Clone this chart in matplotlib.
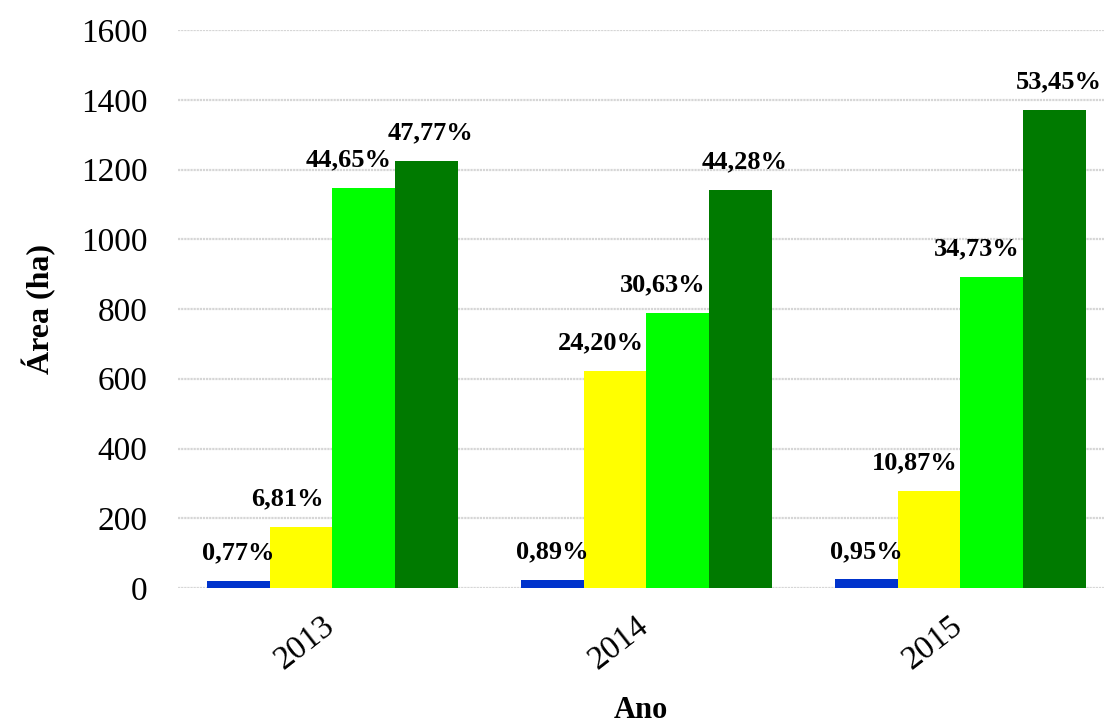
import numpy as np
import matplotlib

matplotlib.use("Agg")
import matplotlib.pyplot as plt
from matplotlib.transforms import ScaledTranslation

# data
years = ["2013", "2014", "2015"]
blue_vals = [19.8, 22.9, 24.4]
yellow_vals = [174.8, 623.0, 279.0]
lgreen_vals = [1145.8, 788.7, 891.5]
dgreen_vals = [1225.8, 1140.0, 1372.0]
blue_pct = ["0,77%", "0,89%", "0,95%"]
yellow_pct = ["6,81%", "24,20%", "10,87%"]
lgreen_pct = ["44,65%", "30,63%", "34,73%"]
dgreen_pct = ["47,77%", "44,28%", "53,45%"]
yticks = [0, 200, 400, 600, 800, 1000, 1200, 1400, 1600]

plt.rcParams["font.family"] = ["Liberation Serif", "DejaVu Serif"]

fig = plt.figure(figsize=(11.04, 7.27), dpi=100)
ax = fig.add_axes([178 / 1104, 1 - 588 / 727, 1 - 178 / 1104, (588 - 30) / 727])

x = np.arange(len(years))
width = 0.2
# (values, labels, colour, label x shift in points)
series = [
    (blue_vals, blue_pct, "#0033CC", 0),
    (yellow_vals, yellow_pct, "#FFFF00", -10),
    (lgreen_vals, lgreen_pct, "#00FF00", -11),
    (dgreen_vals, dgreen_pct, "#007A00", 3),
]
for i, (vals, pcts, color, dx) in enumerate(series):
    pos = x + (i - 1.5) * width
    ax.bar(pos, vals, width=width, color=color, zorder=3)
    for xp, v, lab in zip(pos, vals, pcts):
        ax.annotate(lab, (xp, v), xytext=(dx, 12), textcoords="offset points",
                    ha="center", va="bottom", fontsize=19, fontweight="bold",
                    zorder=4)

ax.set_xlim(-0.492, 2.457)
ax.set_ylim(0, 1600)
ax.set_yticks(yticks)
ax.set_yticklabels([str(t) for t in yticks], fontsize=24)
ax.set_xticks(x)
ax.set_xticklabels(years, fontsize=24, rotation=38, ha="right",
                   rotation_mode="anchor")
ax.tick_params(axis="both", length=0)
ax.tick_params(axis="y", pad=22)
ax.tick_params(axis="x", pad=16)
shift = ScaledTranslation(-8 / 72, 0, fig.dpi_scale_trans)
for lbl in ax.get_xticklabels():
    lbl.set_transform(lbl.get_transform() + shift)

for s in ax.spines.values():
    s.set_visible(False)
ax.yaxis.grid(True, color="#D6D6D6", linewidth=1.6, linestyle=(0, (1, 0.4)),
              zorder=0)
ax.set_axisbelow(True)

ax.set_xlabel("Ano", fontsize=22, fontweight="bold", labelpad=15)
ax.set_ylabel("Área (ha)", fontsize=23, fontweight="bold", labelpad=18)

fig.savefig("out.png", dpi=100)
